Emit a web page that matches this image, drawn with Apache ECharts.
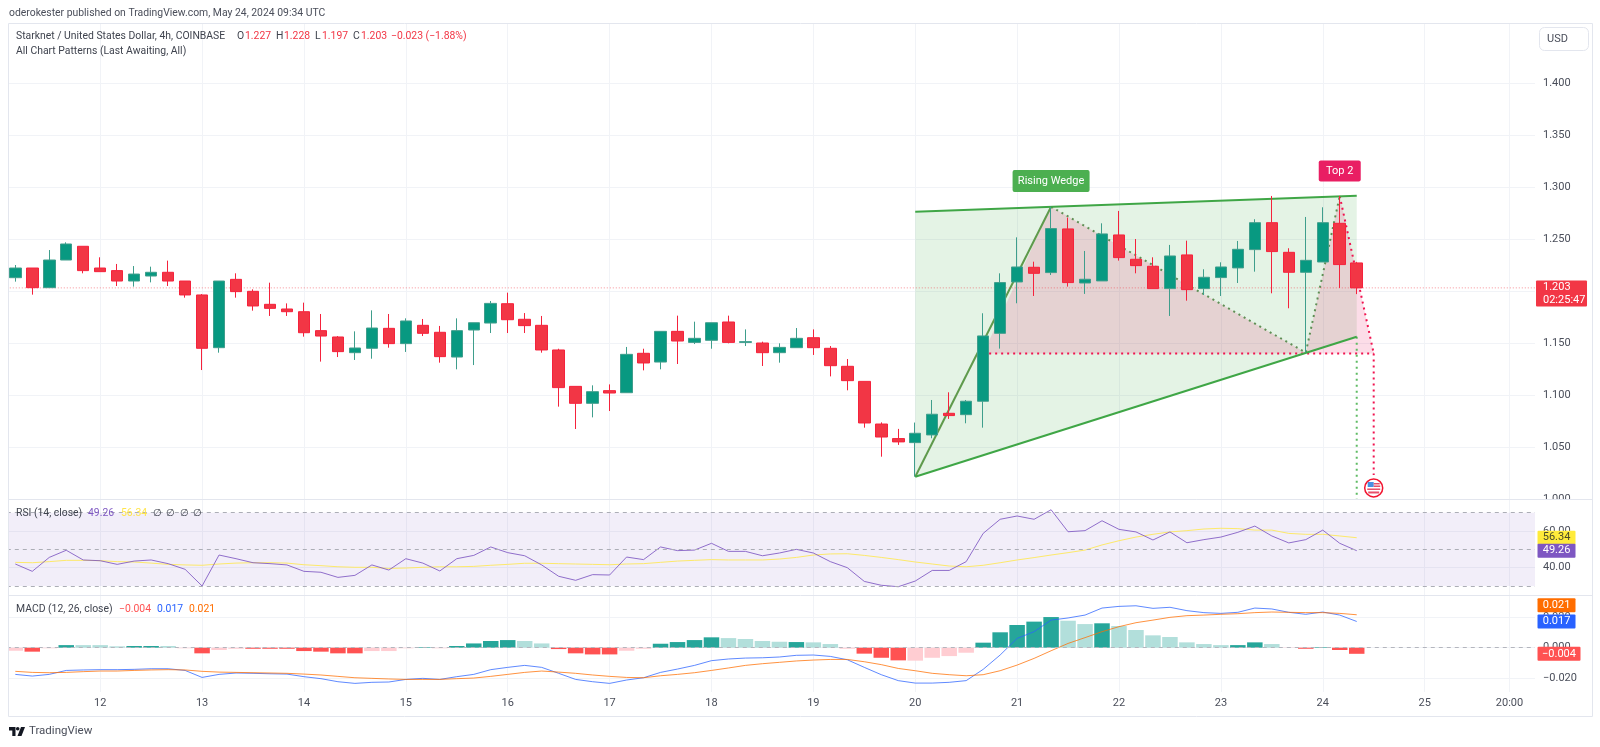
<!DOCTYPE html>
<html>
<head>
<meta charset="utf-8">
<style>html,body{margin:0;padding:0;background:#fff}#chart{width:1600px;height:747px}</style>
<script src="https://cdn.jsdelivr.net/npm/echarts@6/dist/echarts.min.js"></script>
</head>
<body>
<div id="chart"></div>
<script>
const tickIndexes = [5, 11, 17, 23, 29, 35, 41, 47, 53, 59, 65, 71, 77, 83, 88];
const tickLabels = ['12', '13', '14', '15', '16', '17', '18', '19', '20', '21', '22', '23', '24', '25', '20:00'];
const slotCount = 90;

const candleOpen = [1.2128,1.2221,1.2032,1.2298,1.2430,1.2221,1.2196,1.2096,1.2144,1.2180,
1.2096,1.1962,1.1455,1.2112,1.1997,1.1872,1.1827,1.1801,1.1619,1.1558,
1.1407,1.1449,1.1641,1.1494,1.1670,1.1603,1.1365,1.1625,1.1692,1.1878,
1.1728,1.1670,1.1433,1.1083,1.0920,1.1042,1.1022,1.1401,1.1317,1.1612,
1.1506,1.1526,1.1702,1.1506,1.1500,1.1407,1.1455,1.1551,1.1449,1.1276,
1.1131,1.0721,1.0581,1.0542,1.0616,1.0824,1.0811,1.0940,1.1593,1.2087,
1.2228,1.2177,1.2597,1.2077,1.2097,1.2539,1.2305,1.2238,1.2023,1.2347,
1.2023,1.2129,1.2222,1.2398,1.2657,1.2372,1.2180,1.2279,1.2651,1.227];
const candleClose = [1.2221,1.2032,1.2298,1.2452,1.2196,1.2186,1.2096,1.2163,1.2180,1.2096,
1.1962,1.1449,1.2096,1.1994,1.1856,1.1833,1.1801,1.1599,1.1567,1.1417,
1.1452,1.1644,1.1494,1.1712,1.1593,1.1369,1.1619,1.1695,1.1881,1.1724,
1.1667,1.1433,1.1071,1.0920,1.1032,1.1019,1.1391,1.1308,1.1612,1.1519,
1.1545,1.1695,1.1506,1.1513,1.1407,1.1458,1.1545,1.1455,1.1282,1.1138,
1.0731,1.0596,1.0549,1.0632,1.0815,1.0802,1.0940,1.1568,1.2081,1.2231,
1.2170,1.2600,1.2081,1.2113,1.2549,1.2321,1.2244,1.2023,1.2337,1.2013,
1.2132,1.2231,1.2401,1.2657,1.2379,1.2180,1.2295,1.2657,1.2254,1.203];
const candleHigh = [1.2250,1.2221,1.2394,1.2468,1.2430,1.2324,1.2260,1.2240,1.2234,1.2292,
1.2096,1.1971,1.2096,1.2170,1.2016,1.2080,1.1881,1.1888,1.1779,1.1567,
1.1612,1.1814,1.1779,1.1737,1.1731,1.1664,1.1737,1.1695,1.1904,1.1984,
1.1788,1.1760,1.1445,1.1083,1.1093,1.1102,1.1462,1.1445,1.1612,1.1763,
1.1705,1.1695,1.1763,1.1631,1.1513,1.1497,1.1644,1.1631,1.1471,1.1346,
1.1131,1.0737,1.0674,1.0735,1.0952,1.1026,1.0952,1.1786,1.2170,1.2516,
1.2282,1.2811,1.2705,1.2385,1.2651,1.2770,1.2500,1.2324,1.2443,1.2484,
1.2209,1.2276,1.2481,1.2690,1.2914,1.2411,1.2712,1.2805,1.2914,1.228];
const candleLow = [1.2090,1.1965,1.2032,1.2298,1.2170,1.2186,1.2048,1.2042,1.2083,1.2048,
1.1936,1.1240,1.1407,1.1936,1.1811,1.1760,1.1760,1.1561,1.1321,1.1365,
1.1337,1.1349,1.1455,1.1414,1.1567,1.1311,1.1247,1.1288,1.1596,1.1596,
1.1596,1.1407,1.0888,1.0673,1.0785,1.0846,1.1022,1.1237,1.1247,1.1298,
1.1490,1.1445,1.1497,1.1471,1.1279,1.1311,1.1455,1.1385,1.1179,1.1045,
1.0686,1.0407,1.0520,1.0215,1.0584,1.0770,1.0728,1.0686,1.1446,1.1882,
1.1952,1.2154,1.2042,1.1972,1.2097,1.2292,1.2170,1.2023,1.1760,1.1907,
1.1962,1.1952,1.2077,1.2186,1.1978,1.1834,1.1408,1.2279,1.2029,1.197];

const rsiValues = [42.0,38.0,45.6,49.5,44.2,43.8,41.8,43.6,44.2,42.2,
39.1,30.0,46.9,44.9,42.7,42.2,41.5,38.0,37.5,34.7,
35.8,41.5,38.7,44.9,42.5,38.2,44.9,46.7,51.3,48.2,
46.5,41.5,35.3,33.1,36.2,36.0,45.8,44.4,51.3,49.3,
49.6,53.3,48.9,48.9,46.5,48.0,50.0,48.0,43.3,40.0,
32.5,30.4,29.6,32.7,38.5,38.5,43.3,58.7,66.4,68.2,
66.4,71.6,59.6,60.2,65.6,60.9,59.5,55.1,59.5,53.6,
55.3,56.7,59.3,62.7,57.3,53.5,55.3,60.5,53.3,49.26];
const rsiAverage = [42.9,42.7,43.3,44.0,44.0,43.8,43.3,43.1,42.5,41.8,
41.5,41.3,42.0,42.5,42.7,42.7,42.5,41.6,41.1,40.5,
40.2,40.2,39.6,39.8,40.2,40.5,40.5,40.7,41.3,41.8,
42.4,42.4,42.2,42.0,41.8,41.6,42.0,42.2,42.9,43.6,
44.0,44.4,44.2,44.2,44.2,44.7,45.6,46.9,47.5,47.6,
46.7,45.6,44.4,43.1,42.0,40.9,40.5,41.3,42.7,44.2,
45.5,46.9,48.2,49.6,52.4,54.7,56.7,58.2,59.5,60.2,
61.1,61.5,61.3,60.5,60.5,58.7,58.2,58.2,57.3,56.34];

const macdLine = [-.0175,-.0186,-.0175,-.0149,-.0146,-.0144,-.0144,-.0142,-.0138,-.0138,
-.0149,-.0195,-.0175,-.0166,-.0168,-.0171,-.0173,-.0190,-.0203,-.0223,
-.0234,-.0227,-.0225,-.0208,-.0201,-.0208,-.0190,-.0175,-.0144,-.0129,
-.0116,-.0129,-.0168,-.0208,-.0223,-.0234,-.0212,-.0197,-.0162,-.0140,
-.0116,-.0085,-.0074,-.0068,-.0066,-.0061,-.0050,-.0048,-.0057,-.0079,
-.0129,-.0177,-.0216,-.0232,-.0232,-.0227,-.0216,-.0142,-.0048,.0061,
.0105,.0181,.0195,.0214,.0260,.0271,.0275,.0258,.0265,.0243,
.0230,.0225,.0232,.0260,.0254,.0232,.0219,.0234,.0214,.0172];
const macdSignal = [-.0155,-.0162,-.0164,-.0162,-.0157,-.0153,-.0153,-.0149,-.0146,-.0144,
-.0146,-.0155,-.0160,-.0162,-.0164,-.0166,-.0168,-.0173,-.0179,-.0188,
-.0197,-.0201,-.0205,-.0208,-.0208,-.0208,-.0203,-.0199,-.0188,-.0175,
-.0162,-.0153,-.0160,-.0168,-.0179,-.0188,-.0195,-.0197,-.0184,-.0175,
-.0164,-.0149,-.0133,-.0116,-.0105,-.0096,-.0087,-.0081,-.0077,-.0077,
-.0092,-.0111,-.0136,-.0151,-.0168,-.0177,-.0184,-.0177,-.0151,-.0114,
-.0070,-.0020,.0028,.0066,.0105,.0138,.0164,.0181,.0199,.0210,
.0214,.0219,.0223,.0230,.0234,.0232,.0230,.0230,.0225,.0216];
const macdHist = [-.0020,-.0026,-.0004,.0017,.0017,.0017,.0009,.0011,.0011,.0011,
-.0004,-.0037,-.0015,-.0007,-.0007,-.0007,-.0007,-.0022,-.0026,-.0037,
-.0037,-.0022,-.0022,-.0004,.0004,-.0004,.0011,.0028,.0044,.0050,
.0044,.0028,-.0009,-.0037,-.0044,-.0044,-.0020,-.0007,.0026,.0037,
.0050,.0068,.0063,.0057,.0044,.0039,.0037,.0035,.0024,-.0007,
-.0039,-.0066,-.0083,-.0085,-.0066,-.0055,-.0033,.0033,.0101,.0149,
.0171,.0201,.0177,.0155,.0160,.0142,.0116,.0081,.0070,.0035,
.0024,.0017,.0017,.0035,.0024,-.0002,-.0007,.0004,-.0015,-.0040];
const histStrong = [0,1,0,1,0,0,0,1,1,0,
0,1,0,0,1,1,1,1,1,1,
1,0,0,0,1,0,1,1,1,1,
0,0,1,1,1,1,0,0,1,1,
1,1,0,0,0,0,1,0,0,0,
1,1,1,0,0,0,0,1,1,1,
1,1,0,0,1,0,0,0,0,0,
0,0,1,1,0,0,1,1,1,1];

const wedgeArea = [[53,1.2762],[79,1.2917],[79,1.156],[53,1.0214]];
const wedgeUpper = [[53,1.2762],[79,1.2917]];
const wedgeLower = [[53,1.0214],[79,1.156]];
const wedgeRise = [[53,1.0214],[61,1.281]];
const wedgeZig = [[61,1.281],[76,1.1407],[78,1.2913]];
const wedgeTarget = [[79,1.156],[79,1.0]];
const topArea = [[57,1.14],[61,1.281],[76,1.1407],[78,1.2913],[80,1.14]];
const topFall = [[78,1.2913],[80,1.14]];
const topNeck = [[57,1.14],[80,1.14]];
const topTarget = [[80,1.14],[80,1.023]];
const wedgeLabelAt = [61,1.3058];
const topLabelAt = [78,1.3154];
const eventAt = [80,1.0106];

const priceTicks = [1.0,1.05,1.1,1.15,1.2,1.25,1.3,1.35,1.4];
const rsiTicks = [40,60];
const rsiLevels = [70,50,30];
const macdTicks = [-0.02,0,0.02];

const categories = Array.from({length: slotCount}, (_, i) => {
  const at = tickIndexes.indexOf(i);
  return at >= 0 ? tickLabels[at] : 'b' + i;
});
const isTick = i => tickIndexes.includes(i);

const FONT = 'Roboto, "Liberation Sans", sans-serif';
const GRID_LEFT = 6.81, GRID_WIDTH = 1528.2;
const GRID_LINE = '#f1f3f7', BORDER = '#e3e6ee';
const UP = '#089981', DOWN = '#f23645';

const panes = [{top: 23, height: 476}, {top: 499, height: 96}, {top: 595, height: 97}];

function xAxisFor(gridIndex, showLabels) {
  return {
    type: 'category', gridIndex, data: categories, boundaryGap: true,
    axisLine: {show: false}, axisTick: {show: false},
    axisLabel: {
      show: showLabels, interval: i => isTick(i), margin: 6,
      color: '#4a4e5a', fontSize: 11, fontFamily: FONT,
      formatter: v => tickLabels.includes(v) ? v : ''
    },
    splitLine: {show: true, alignWithLabel: true, interval: i => isTick(i), lineStyle: {color: GRID_LINE, width: 1}}
  };
}
function yAxisFor(gridIndex, min, max, ticks, fmt) {
  return {
    type: 'value', gridIndex, position: 'right', min, max, scale: true,
    axisLine: {show: false},
    axisTick: {show: false, customValues: ticks},
    axisLabel: {customValues: ticks, color: '#4a4e5a', fontSize: 11, fontFamily: FONT, margin: 8, align: 'left', formatter: fmt},
    splitLine: {show: true, lineStyle: {color: GRID_LINE, width: 1}}
  };
}

function polyShape(api, pts, style, close) {
  const points = pts.map(p => api.coord(p));
  return {type: close ? 'polygon' : 'polyline', shape: {points}, style: Object.assign(close ? {} : {fill: null}, style), silent: true};
}
const dotted = c => ({stroke: c, lineWidth: 2, lineDash: [2, 4]});
const patternPainters = [
  api => polyShape(api, wedgeArea, {fill: 'rgba(76,175,80,0.15)'}, true),
  api => polyShape(api, topArea, {fill: 'rgba(233,30,99,0.15)'}, true),
  api => polyShape(api, topNeck, dotted('#f0134f')),
  api => polyShape(api, topFall, dotted('#f0134f')),
  api => polyShape(api, topTarget, dotted('#f0134f')),
  api => polyShape(api, wedgeTarget, dotted('#5fbb64')),
  api => polyShape(api, wedgeZig, dotted('#5f8f55')),
  api => polyShape(api, wedgeRise, {stroke: '#5f9a4c', lineWidth: 2}),
  api => polyShape(api, wedgeUpper, {stroke: '#3fa646', lineWidth: 2}),
  api => polyShape(api, wedgeLower, {stroke: '#3fa646', lineWidth: 2}),
  (api, p) => {
    const y = api.coord([0, candleClose[79]])[1];
    return {type: 'line', silent: true,
      shape: {x1: p.coordSys.x, y1: y, x2: p.coordSys.x + p.coordSys.width, y2: y},
      style: {stroke: 'rgba(242,54,69,0.55)', lineWidth: 1, lineDash: [1, 2]}};
  }
];
function badge(api, at, text, bg, w, h) {
  const c = api.coord(at);
  return {type: 'group', x: c[0], y: c[1], silent: true, children: [
    {type: 'rect', shape: {x: -w/2, y: -h/2, width: w, height: h, r: 2}, style: {fill: bg}},
    {type: 'text', style: {x: 0, y: 0, text, fill: '#fff', font: '11px ' + FONT, align: 'center', verticalAlign: 'middle'}}
  ]};
}
const overlayPainters = [
  api => badge(api, wedgeLabelAt, 'Rising Wedge', '#4caf50', 77, 22),
  api => badge(api, topLabelAt, 'Top 2', '#e91e63', 42, 21),
  api => {
    const c = api.coord(eventAt);
    return {type: 'group', x: c[0], y: c[1], silent: true, children: [
      {type: 'circle', shape: {cx: 0, cy: 0, r: 9}, style: {fill: '#fff', stroke: '#f2142f', lineWidth: 1.5}},
      {type: 'rect', shape: {x: -6, y: -6, width: 6, height: 5}, style: {fill: '#4a90e2'}},
      {type: 'rect', shape: {x: 0, y: -5, width: 6, height: 1.5}, style: {fill: '#e8506a'}},
      {type: 'rect', shape: {x: 0, y: -2.5, width: 6.5, height: 1.5}, style: {fill: '#e8506a'}},
      {type: 'rect', shape: {x: -6.5, y: 0.5, width: 13, height: 1.5}, style: {fill: '#e8506a'}},
      {type: 'rect', shape: {x: -5.5, y: 3.5, width: 11, height: 2}, style: {fill: '#e8506a'}}
    ]};
  }
];
function painterSeries(painters, z) {
  return {
    type: 'custom', xAxisIndex: 0, yAxisIndex: 0, z, silent: true, clip: false,
    data: painters.map((_, i) => [i, 1.2]),
    encode: {x: 0, y: 1},
    tooltip: {show: false},
    renderItem: (p, api) => painters[p.dataIndex](api, p)
  };
}
function tagSeries(pane, items) {
  return {
    type: 'custom', xAxisIndex: pane, yAxisIndex: pane, z: 20, silent: true, clip: false,
    data: items.map(t => [79, t.value]),
    encode: {x: 0, y: 1},
    renderItem: (p, api) => {
      const t = items[p.dataIndex];
      const y = api.coord([79, t.value])[1] + (t.dy || 0);
      const x = p.coordSys.x + p.coordSys.width + (t.dx || 2.5);
      const kids = [{type: 'rect', shape: {x, y: y - t.h/2, width: t.w, height: t.h, r: 1}, style: {fill: t.bg}}];
      if (t.sub) {
        kids.push({type: 'text', style: {x: x + 7, y: y - 6.5, text: t.text, fill: t.fg, font: '11px ' + FONT, verticalAlign: 'middle'}});
        kids.push({type: 'text', style: {x: x + 7, y: y + 6.5, text: t.sub, fill: t.fg, font: '11px ' + FONT, verticalAlign: 'middle'}});
      } else {
        kids.push({type: 'text', style: {x: x + t.w/2, y, text: t.text, fill: t.fg, font: '11px ' + FONT, align: 'center', verticalAlign: 'middle'}});
      }
      return {type: 'group', silent: true, children: kids};
    }
  };
}

const lbl = (x, y, text, fill, size) => ({type: 'text', z: 100, silent: true, x, y, style: {text, fill, font: (size || 10.4) + 'px ' + FONT, verticalAlign: 'middle'}});
const edge = (x1, y1, x2, y2) => ({type: 'line', z: 90, silent: true, shape: {x1, y1, x2, y2}, style: {stroke: BORDER, lineWidth: 1}});
const poly = (points, fill) => ({type: 'polygon', z: 100, silent: true, shape: {points}, style: {fill}});
const INK = '#3f434e', RED = '#f23645', PURPLE = '#7e57c2', YEL = '#ffe54a', BLUE = '#2962ff', ORG = '#ff6d00', RED2 = '#ff5252';

const graphics = [
  {type: 'rect', z: 80, silent: true, shape: {x: 0, y: 23, width: 8, height: 670}, style: {fill: '#fff'}},
  {type: 'rect', z: 80, silent: true, shape: {x: 1537, y: 500, width: 54, height: 9}, style: {fill: '#fff'}},
  edge(8.5, 23.5, 1592.5, 23.5), edge(8.5, 23.5, 8.5, 716.5), edge(1592.5, 23.5, 1592.5, 716.5),
  edge(8.5, 716.5, 1592.5, 716.5), edge(8.5, 499.5, 1592.5, 499.5), edge(8.5, 595.5, 1592.5, 595.5),
  lbl(9, 13, 'oderokester published on TradingView.com, May 24, 2024 09:34 UTC', '#4a4e5a'),
  lbl(16, 36, 'Starknet / United States Dollar, 4h, COINBASE', INK),
  lbl(237, 36, 'O', INK), lbl(245, 36, '1.227', RED),
  lbl(276, 36, 'H', INK), lbl(284, 36, '1.228', RED),
  lbl(315, 36, 'L', INK), lbl(322, 36, '1.197', RED),
  lbl(353, 36, 'C', INK), lbl(361, 36, '1.203', RED),
  lbl(391, 36, '\u22120.023 (\u22121.88%)', RED),
  lbl(16, 51.5, 'All Chart Patterns (Last Awaiting, All)', INK),
  lbl(16, 513, 'RSI (14, close)', INK),
  lbl(88, 513, '49.26', PURPLE), lbl(121, 513, '56.34', YEL),
  lbl(153, 513, '\u2205', INK), lbl(166, 513, '\u2205', INK), lbl(180, 513, '\u2205', INK), lbl(193, 513, '\u2205', INK),
  lbl(16, 609, 'MACD (12, 26, close)', INK),
  lbl(119, 609, '\u22120.004', RED2), lbl(157, 609, '0.017', BLUE), lbl(189, 609, '0.021', ORG),
  {type: 'rect', z: 100, silent: true, shape: {x: 1539.5, y: 27.5, width: 49, height: 23, r: 5}, style: {fill: '#fff', stroke: '#e3e6ee', lineWidth: 1}},
  lbl(1547, 39, 'USD', '#4a4e5a', 11),
  poly([[9,727],[15.5,727],[15.5,736],[12.3,736],[12.3,730.4],[9,730.4]], '#131722'),
  {type: 'circle', z: 100, silent: true, shape: {cx: 17.7, cy: 728.7, r: 1.8}, style: {fill: '#131722'}},
  poly([[17.5,736],[21,727],[25,727],[21.5,736]], '#131722'),
  lbl(29, 731.5, 'TradingView', '#4a4e5a', 11.5)
];

const option = {
  animation: false,
  backgroundColor: '#fff',
  textStyle: {fontFamily: FONT},
  grid: panes.map(p => ({left: GRID_LEFT, width: GRID_WIDTH, top: p.top, height: p.height})),
  xAxis: [xAxisFor(0, false), xAxisFor(1, false), xAxisFor(2, true)],
  yAxis: [
    yAxisFor(0, 1.0, 1.4577, priceTicks, v => v.toFixed(3)),
    yAxisFor(1, 25.09, 77.47, rsiTicks, v => v.toFixed(2)),
    yAxisFor(2, -0.02905, 0.03456, macdTicks, v => v.toFixed(3).replace('-', '\u2212'))
  ],
  graphic: graphics,
  series: [
    painterSeries(patternPainters, 1),
    {
      type: 'candlestick', xAxisIndex: 0, yAxisIndex: 0, z: 3, barWidth: 12,
      data: candleOpen.map((o, i) => [o, candleClose[i], candleLow[i], candleHigh[i]]),
      itemStyle: {color: UP, color0: DOWN, borderColor: '#3f9e8c', borderColor0: '#f5223c', borderWidth: 1}
    },
    painterSeries(overlayPainters, 5),
    {
      type: 'line', name: 'RSI', xAxisIndex: 1, yAxisIndex: 1, z: 4, data: rsiValues, showSymbol: false, silent: true,
      lineStyle: {color: PURPLE, width: 1, opacity: 0.85},
      markArea: {silent: true, itemStyle: {color: 'rgba(126,87,194,0.1)'}, data: [[{yAxis: rsiLevels[0]}, {yAxis: rsiLevels[2]}]]},
      markLine: {silent: true, symbol: 'none', label: {show: false}, animation: false,
        data: rsiLevels.map(v => ({yAxis: v})),
        lineStyle: {color: '#acaeb6', type: [4, 4], width: 1}}
    },
    {type: 'line', name: 'RSI MA', xAxisIndex: 1, yAxisIndex: 1, z: 3, data: rsiAverage, showSymbol: false, silent: true, lineStyle: {color: '#fde96a', width: 1}},
    {
      type: 'bar', name: 'Histogram', xAxisIndex: 2, yAxisIndex: 2, z: 2, barWidth: 15.5, silent: true,
      data: macdHist.map((v, i) => ({value: v, itemStyle: {color: v >= 0 ? (histStrong[i] ? '#26a69a' : '#b2dfdb') : (histStrong[i] ? '#ff5252' : '#ffcdd2')}})),
      markLine: {silent: true, symbol: 'none', label: {show: false}, animation: false,
        data: [{yAxis: 0}], lineStyle: {color: '#b4b6be', type: [4, 4], width: 1}}
    },
    {type: 'line', name: 'MACD', xAxisIndex: 2, yAxisIndex: 2, z: 4, data: macdLine, showSymbol: false, silent: true, lineStyle: {color: BLUE, width: 1, opacity: 0.75}},
    {type: 'line', name: 'Signal', xAxisIndex: 2, yAxisIndex: 2, z: 4, data: macdSignal, showSymbol: false, silent: true, lineStyle: {color: ORG, width: 1, opacity: 0.75}},
    tagSeries(0, [{value: candleClose[79], text: '1.203', sub: '02:25:47', bg: DOWN, fg: '#fff', w: 51, h: 26, dy: 5.6, dx: 1}]),
    tagSeries(1, [
      {value: rsiAverage[79], text: '56.34', bg: '#ffeb3b', fg: '#4a4a2a', w: 38, h: 14},
      {value: rsiValues[79], text: '49.26', bg: PURPLE, fg: '#fff', w: 38, h: 14}
    ]),
    tagSeries(2, [
      {value: macdSignal[79], text: '0.021', bg: ORG, fg: '#fff', w: 38, h: 14, dy: -9.5},
      {value: macdLine[79], text: '0.017', bg: BLUE, fg: '#fff', w: 38, h: 14},
      {value: macdHist[79], text: '\u22120.004', bg: RED2, fg: '#fff', w: 43, h: 14}
    ])
  ]
};
echarts.init(document.getElementById('chart'), null, {renderer: 'canvas', width: 1600, height: 747}).setOption(option);
</script>
</body>
</html>
